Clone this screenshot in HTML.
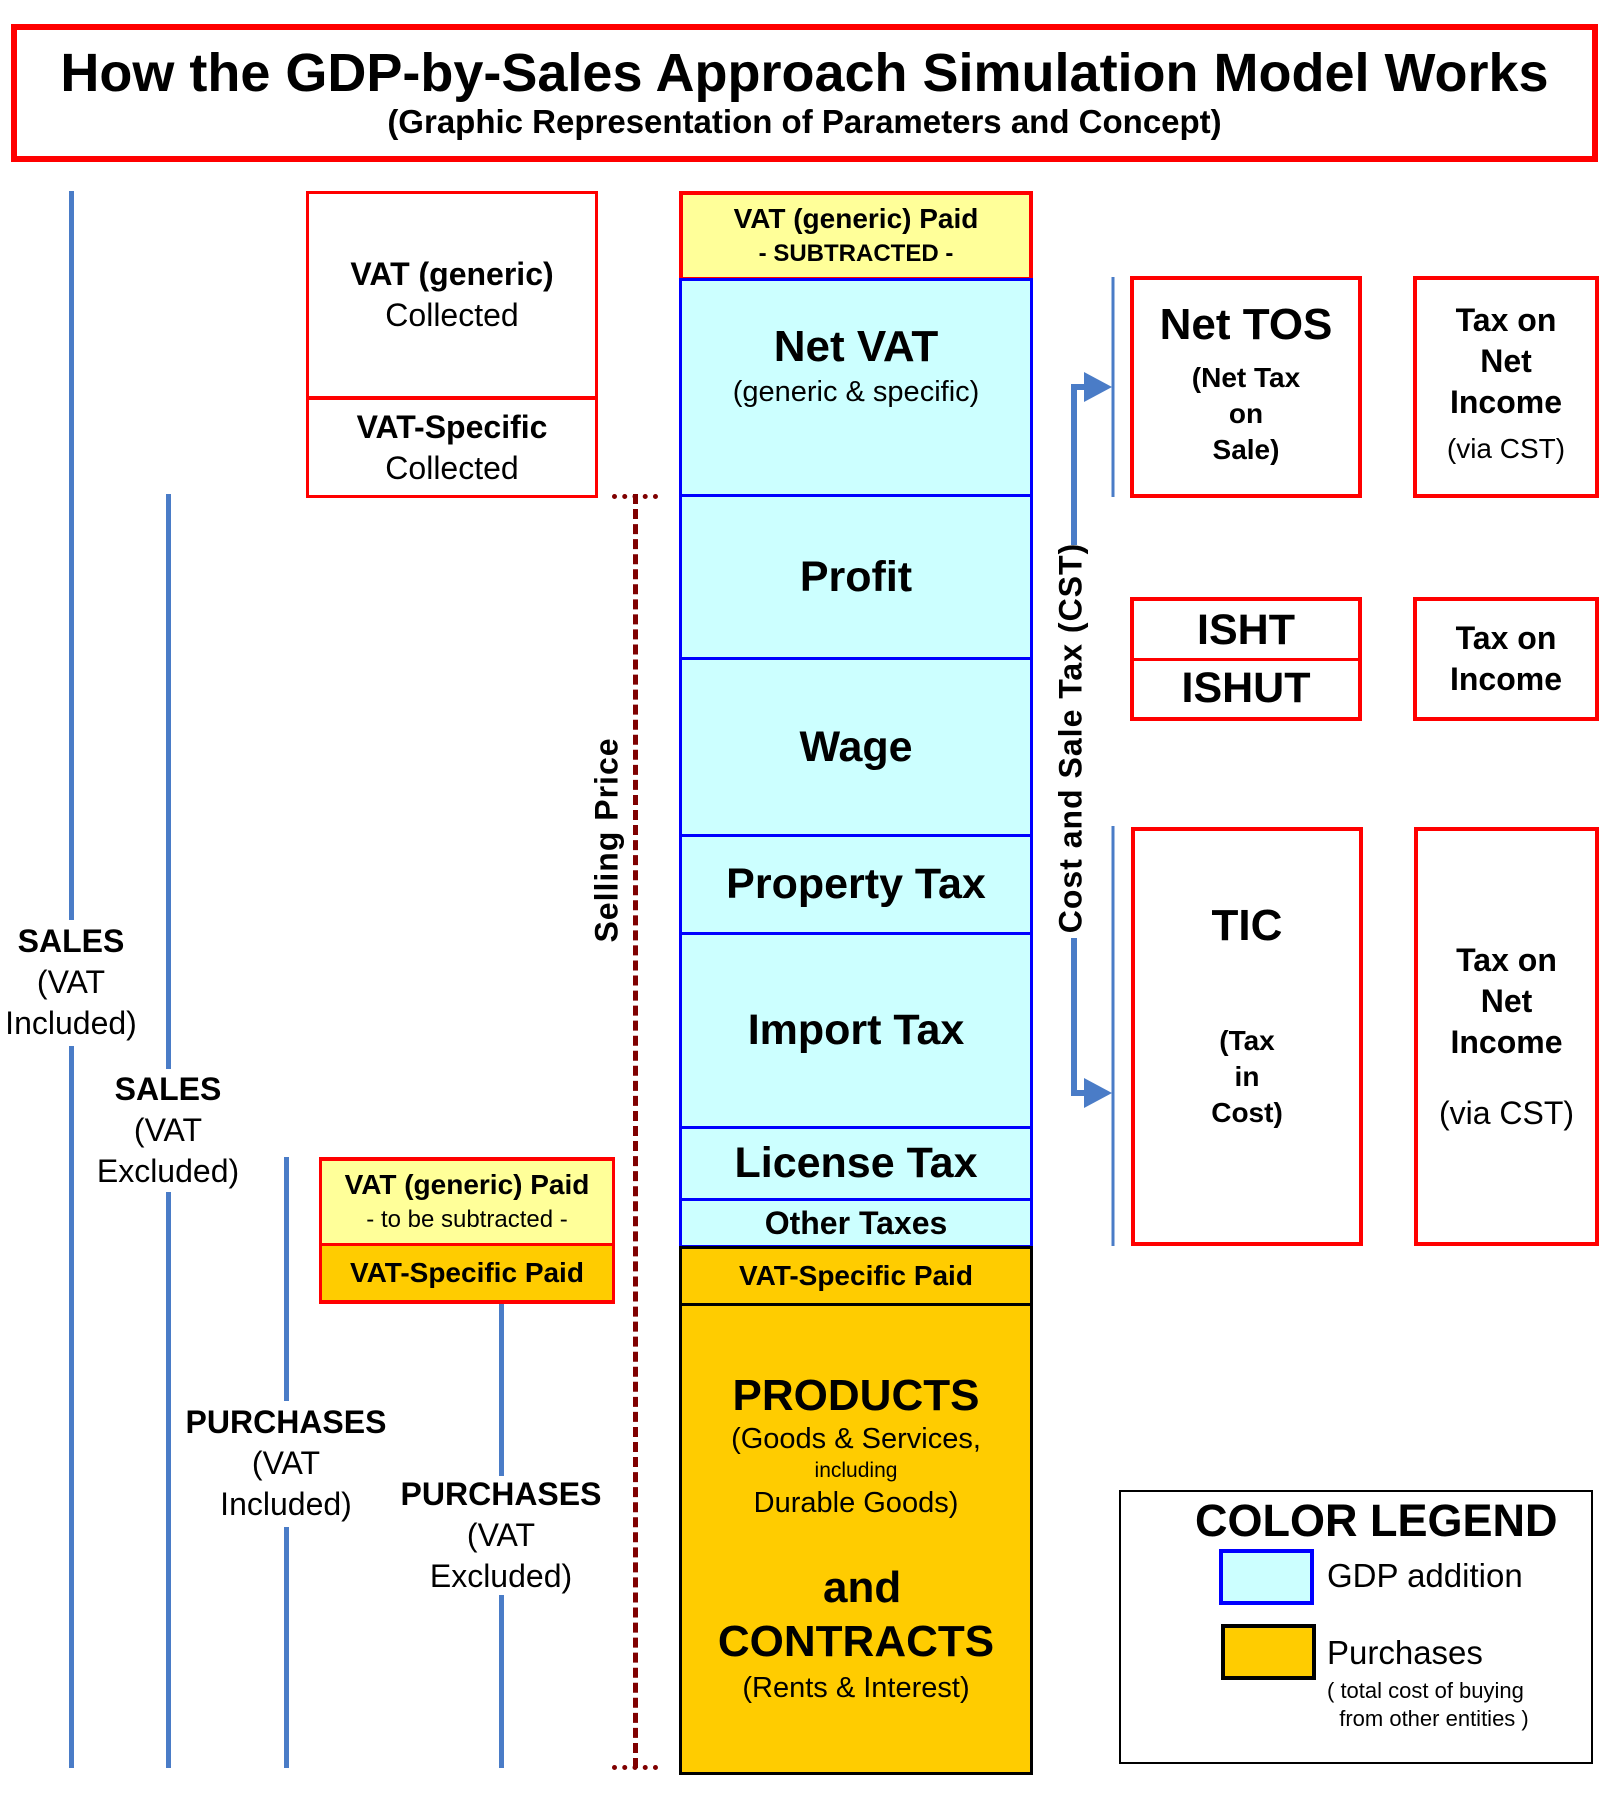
<!DOCTYPE html>
<html><head><meta charset="utf-8"><style>
body{margin:0;width:1601px;height:1801px;background:#fff;position:relative;overflow:hidden;font-family:"Liberation Sans",Arial,sans-serif;color:#000}
.a{position:absolute;box-sizing:border-box}
.c{display:flex;flex-direction:column;align-items:center;justify-content:center;text-align:center}
.b{font-weight:bold}
.rb{border:4px solid #f00}
.bl{background:#ccffff;border:3px solid #00f}
.vl{position:absolute;width:5px;background:#4a7cc7}
</style></head><body>
<div class="a rb c" style="left:11px;top:24px;width:1587px;height:138px;border-width:6px">
<div class="b" style="font-size:54px;line-height:58px">How the GDP-by-Sales Approach Simulation Model Works</div>
<div class="b" style="font-size:33px;line-height:40px">(Graphic Representation of Parameters and Concept)</div>
</div>

<div class="vl" style="left:69px;top:191px;height:729px"></div>
<div class="vl" style="left:69px;top:1046px;height:722px"></div>
<div class="vl" style="left:166px;top:494px;height:575px"></div>
<div class="vl" style="left:166px;top:1192px;height:576px"></div>
<div class="vl" style="left:284px;top:1157px;height:244px"></div>
<div class="vl" style="left:284px;top:1527px;height:241px"></div>
<div class="vl" style="left:499px;top:1301px;height:175px"></div>
<div class="vl" style="left:499px;top:1595px;height:173px"></div>

<div class="a c" style="left:0;top:918px;width:142px;height:128px;font-size:32px;line-height:41px"><div class="b">SALES</div><div>(VAT</div><div>Included)</div></div>
<div class="a c" style="left:88px;top:1068px;width:160px;height:124px;font-size:32px;line-height:41px"><div class="b">SALES</div><div>(VAT</div><div>Excluded)</div></div>
<div class="a c" style="left:176px;top:1400px;width:220px;height:126px;font-size:32px;line-height:41px"><div class="b">PURCHASES</div><div>(VAT</div><div>Included)</div></div>
<div class="a c" style="left:391px;top:1472px;width:220px;height:126px;font-size:32px;line-height:41px"><div class="b">PURCHASES</div><div>(VAT</div><div>Excluded)</div></div>

<div class="a rb" style="left:306px;top:191px;width:292px;height:307px;border-width:3px"></div>
<div class="a c" style="left:306px;top:191px;width:292px;height:207px;font-size:32px;line-height:41px"><div class="b">VAT (generic)</div><div>Collected</div></div>
<div class="a" style="left:306px;top:396px;width:292px;height:4px;background:#f00"></div>
<div class="a c" style="left:306px;top:400px;width:292px;height:96px;font-size:32px;line-height:41px"><div class="b">VAT-Specific</div><div>Collected</div></div>

<div class="a rb c" style="left:319px;top:1157px;width:296px;height:88px;background:#ffff99;border-width:4px 3px 2px 3px"><div class="b" style="font-size:28px;line-height:36px">VAT (generic) Paid</div><div style="font-size:24px;line-height:34px">- to be subtracted -</div></div>
<div class="a rb c b" style="left:319px;top:1244px;width:296px;height:60px;background:#ffcc00;border-width:2px 3px 4px 3px;font-size:28px">VAT-Specific Paid</div>

<div class="a" style="left:633px;top:494px;width:0;height:1274px;border-left:5px dashed #800000"></div>
<div class="a" style="left:612px;top:494px;width:46px;height:0;border-top:5px dotted #800000"></div>
<div class="a" style="left:612px;top:1765px;width:46px;height:0;border-top:5px dotted #800000"></div>
<div class="a b" style="left:607px;top:840px;width:0;height:0"><div style="position:absolute;transform:translate(-50%,-50%) rotate(-90deg);white-space:nowrap;font-size:32px;letter-spacing:1px">Selling Price</div></div>

<div class="a rb c" style="left:679px;top:191px;width:354px;height:88px;background:#ffff99;border-width:4px 4px 2px 4px"><div class="b" style="font-size:28px;line-height:36px">VAT (generic) Paid</div><div class="b" style="font-size:24px;line-height:34px">- SUBTRACTED -</div></div>
<div class="a bl c" style="left:679px;top:278px;width:354px;height:219px;justify-content:flex-start;padding-top:40px"><div class="b" style="font-size:44px;line-height:52px">Net VAT</div><div style="font-size:29px;line-height:38px">(generic &amp; specific)</div></div>
<div class="a bl c b" style="left:679px;top:494px;width:354px;height:166px;font-size:43px">Profit</div>
<div class="a bl c b" style="left:679px;top:657px;width:354px;height:180px;font-size:43px">Wage</div>
<div class="a bl c b" style="left:679px;top:834px;width:354px;height:101px;font-size:43px">Property Tax</div>
<div class="a bl c b" style="left:679px;top:932px;width:354px;height:197px;font-size:43px">Import Tax</div>
<div class="a bl c b" style="left:679px;top:1126px;width:354px;height:75px;font-size:43px">License Tax</div>
<div class="a bl c b" style="left:679px;top:1198px;width:354px;height:50px;font-size:32px">Other Taxes</div>
<div class="a c b" style="left:679px;top:1246px;width:354px;height:60px;background:#ffcc00;border:3px solid #000;font-size:28px">VAT-Specific Paid</div>
<div class="a c" style="left:679px;top:1303px;width:354px;height:472px;background:#ffcc00;border:3px solid #000;justify-content:flex-start;padding-top:64px">
<div class="b" style="font-size:44px;line-height:52px">PRODUCTS</div>
<div style="font-size:29px;line-height:34px">(Goods &amp; Services,</div>
<div style="font-size:21px;line-height:30px">including</div>
<div style="font-size:29px;line-height:34px">Durable Goods)</div>
<div class="b" style="font-size:44px;line-height:52px;margin-top:42px">&nbsp;and</div>
<div class="b" style="font-size:44px;line-height:56px">CONTRACTS</div>
<div style="font-size:29px;line-height:36px">(Rents &amp; Interest)</div>
</div>

<div class="a b" style="left:1071px;top:738px;width:0;height:0"><div style="position:absolute;transform:translate(-50%,-50%) rotate(-90deg);white-space:nowrap;font-size:32px;letter-spacing:1px">Cost and Sale Tax (CST)</div></div>
<svg class="a" style="left:0;top:0" width="1601" height="1801">
<path d="M1074 545 V387 H1092" stroke="#4a7cc7" stroke-width="6" fill="none"/>
<polygon points="1084,372 1112,387 1084,402" fill="#4a7cc7"/>
<path d="M1074 938 V1093 H1092" stroke="#4a7cc7" stroke-width="6" fill="none"/>
<polygon points="1084,1078 1112,1093 1084,1108" fill="#4a7cc7"/>
<line x1="1113" y1="277" x2="1113" y2="497" stroke="#4a7cc7" stroke-width="3"/>
<line x1="1113" y1="826" x2="1113" y2="1246" stroke="#4a7cc7" stroke-width="3"/>
</svg>

<div class="a rb c" style="left:1130px;top:276px;width:232px;height:222px;justify-content:flex-start;padding-top:18px"><div class="b" style="font-size:44px;line-height:54px;margin-bottom:8px">Net TOS</div><div class="b" style="font-size:28px;line-height:36px">(Net Tax</div><div class="b" style="font-size:28px;line-height:36px">on</div><div class="b" style="font-size:28px;line-height:36px">Sale)</div></div>
<div class="a rb c" style="left:1413px;top:276px;width:186px;height:222px;font-size:32px;line-height:41px"><div class="b">Tax on</div><div class="b">Net</div><div class="b">Income</div><div style="font-size:28px;line-height:52px">(via CST)</div></div>
<div class="a rb c b" style="left:1130px;top:597px;width:232px;height:64px;font-size:43px;border-bottom-width:2px">ISHT</div>
<div class="a rb c b" style="left:1130px;top:658px;width:232px;height:63px;font-size:43px;border-top-width:2px">ISHUT</div>
<div class="a rb c" style="left:1413px;top:597px;width:186px;height:124px;font-size:32px;line-height:41px"><div class="b">Tax on</div><div class="b">Income</div></div>
<div class="a rb c" style="left:1131px;top:827px;width:232px;height:419px;justify-content:flex-start;padding-top:68px"><div class="b" style="font-size:44px;line-height:54px;margin-bottom:70px">TIC</div><div class="b" style="font-size:28px;line-height:36px">(Tax</div><div class="b" style="font-size:28px;line-height:36px">in</div><div class="b" style="font-size:28px;line-height:36px">Cost)</div></div>
<div class="a rb c" style="left:1414px;top:827px;width:185px;height:419px;font-size:32px;line-height:41px"><div class="b">Tax on</div><div class="b">Net</div><div class="b">Income</div><div style="margin-top:30px">(via CST)</div></div>

<div class="a" style="left:1119px;top:1490px;width:474px;height:274px;border:2px solid #000"></div>
<div class="a b" style="left:1195px;top:1495px;font-size:45px;line-height:52px;white-space:nowrap">COLOR LEGEND</div>
<div class="a" style="left:1219px;top:1549px;width:95px;height:56px;background:#ccffff;border:4px solid #00f"></div>
<div class="a" style="left:1327px;top:1556px;font-size:33px;line-height:40px;white-space:nowrap">GDP addition</div>
<div class="a" style="left:1221px;top:1624px;width:95px;height:56px;background:#ffcc00;border:4px solid #000"></div>
<div class="a" style="left:1327px;top:1633px;font-size:33px;line-height:40px;white-space:nowrap">Purchases</div>
<div class="a" style="left:1327px;top:1677px;font-size:22px;line-height:28px;white-space:nowrap">( total cost of buying<br>&nbsp;&nbsp;from other entities )</div>
</body></html>
